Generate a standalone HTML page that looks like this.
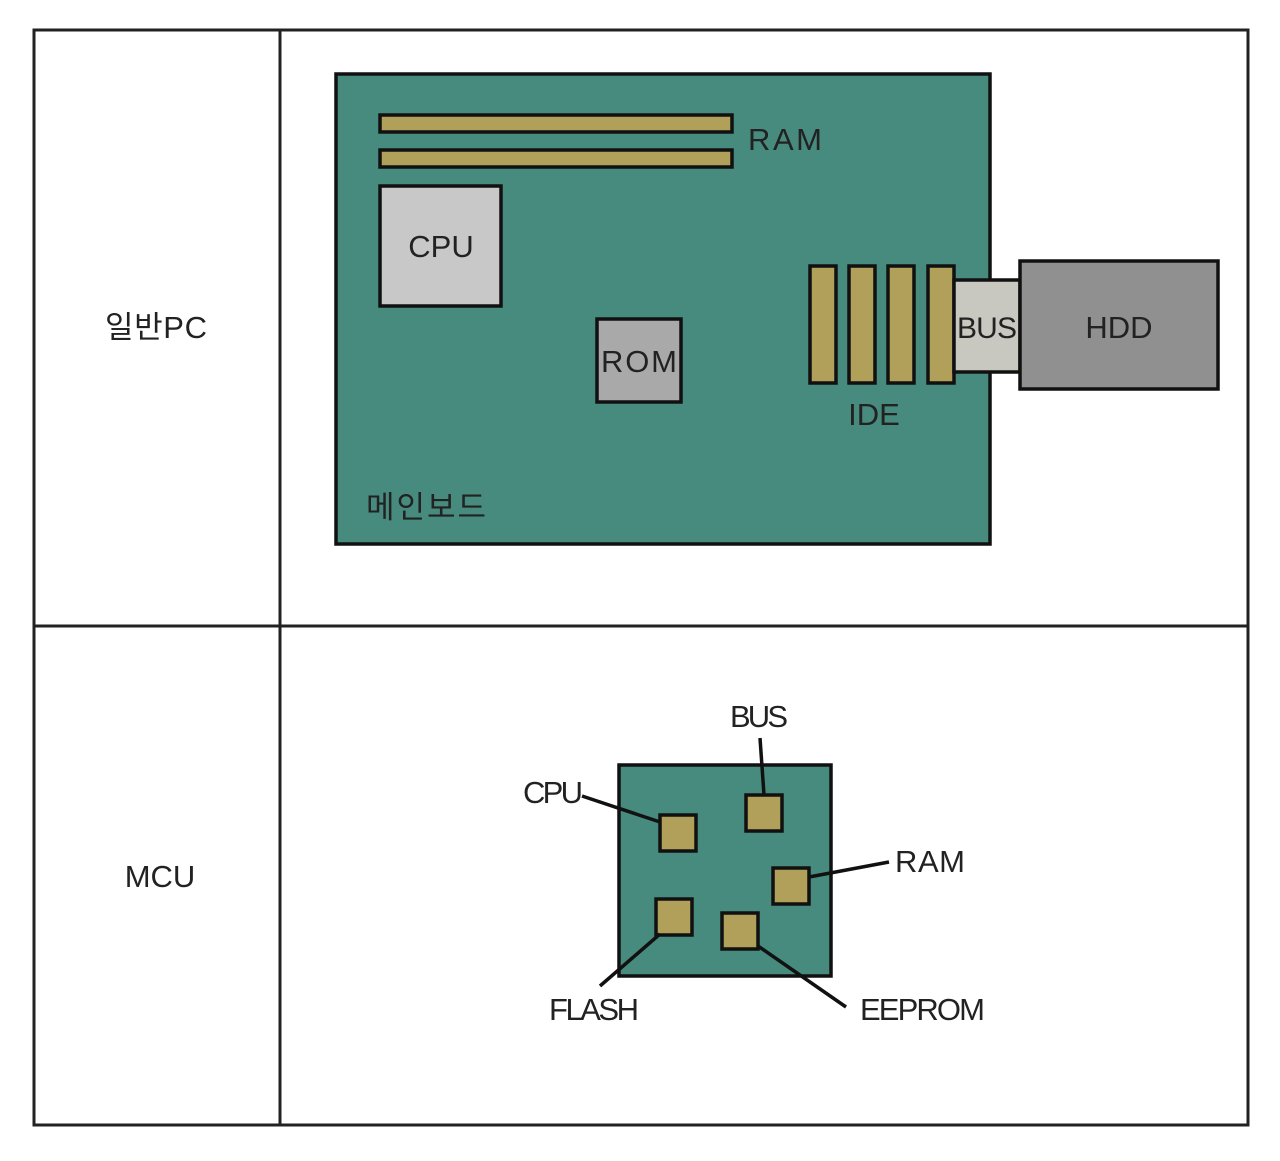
<!DOCTYPE html>
<html><head><meta charset="utf-8"><style>html,body{margin:0;padding:0;background:#fff}</style></head>
<body>
<svg width="1280" height="1156" xmlns="http://www.w3.org/2000/svg" font-family="'Liberation Sans','Noto Sans CJK KR',sans-serif" fill="#222">
<rect width="1280" height="1156" fill="#fff"/>
<g stroke="#222" stroke-width="3" fill="none">
<rect x="34" y="30" width="1214" height="1095"/>
<line x1="280" y1="30" x2="280" y2="1125"/>
<line x1="34" y1="626" x2="1248" y2="626"/>
</g>
<text x="156" y="338" font-size="31" text-anchor="middle" textLength="102">일반PC</text>
<text x="160" y="887" font-size="31" text-anchor="middle">MCU</text>
<g stroke="#111" stroke-width="3.5">
<rect x="336" y="74" width="654" height="470" fill="#478b7f"/>
<rect x="380" y="115" width="352" height="17" fill="#b0a05a"/>
<rect x="380" y="150" width="352" height="17" fill="#b0a05a"/>
<rect x="380" y="186" width="121" height="120" fill="#c8c8c8"/>
<rect x="597" y="319" width="84" height="83" fill="#a9a9a9"/>
<rect x="810" y="266" width="26" height="117" fill="#b0a05a"/>
<rect x="849" y="266" width="26" height="117" fill="#b0a05a"/>
<rect x="888" y="266" width="26" height="117" fill="#b0a05a"/>
<rect x="928" y="266" width="26" height="117" fill="#b0a05a"/>
<rect x="954" y="280" width="66" height="92" fill="#c8c8c0"/>
<rect x="1020" y="261" width="198" height="128" fill="#909090"/>
</g>
<text x="748" y="150" font-size="31" textLength="74">RAM</text>
<text x="441" y="257" font-size="31" text-anchor="middle">CPU</text>
<text x="639" y="372" font-size="31" text-anchor="middle" textLength="76">ROM</text>
<text x="987" y="338" font-size="30" text-anchor="middle" textLength="60">BUS</text>
<text x="1119" y="338" font-size="31" text-anchor="middle">HDD</text>
<text x="874" y="425" font-size="31" text-anchor="middle">IDE</text>
<text x="366" y="518" font-size="31" textLength="120">메인보드</text>
<g stroke="#111" stroke-width="3.5">
<rect x="619" y="765" width="212" height="211" fill="#478b7f"/>
<rect x="660" y="815" width="36" height="36" fill="#b0a05a"/>
<rect x="746" y="795" width="36" height="36" fill="#b0a05a"/>
<rect x="773" y="868" width="36" height="36" fill="#b0a05a"/>
<rect x="656" y="899" width="36" height="36" fill="#b0a05a"/>
<rect x="722" y="913" width="36" height="36" fill="#b0a05a"/>
<line x1="582" y1="796" x2="660" y2="822"/>
<line x1="760" y1="738" x2="764" y2="795"/>
<line x1="809" y1="877" x2="889" y2="862"/>
<line x1="660" y1="934" x2="600" y2="986"/>
<line x1="758" y1="946" x2="846" y2="1007"/>
</g>
<text x="553" y="803" font-size="31" text-anchor="middle" textLength="60">CPU</text>
<text x="759" y="727" font-size="31" text-anchor="middle" textLength="58">BUS</text>
<text x="895" y="872" font-size="31" textLength="70">RAM</text>
<text x="594" y="1020" font-size="31" text-anchor="middle" textLength="90">FLASH</text>
<text x="860" y="1020" font-size="31" textLength="125">EEPROM</text>
</svg>
</body></html>
